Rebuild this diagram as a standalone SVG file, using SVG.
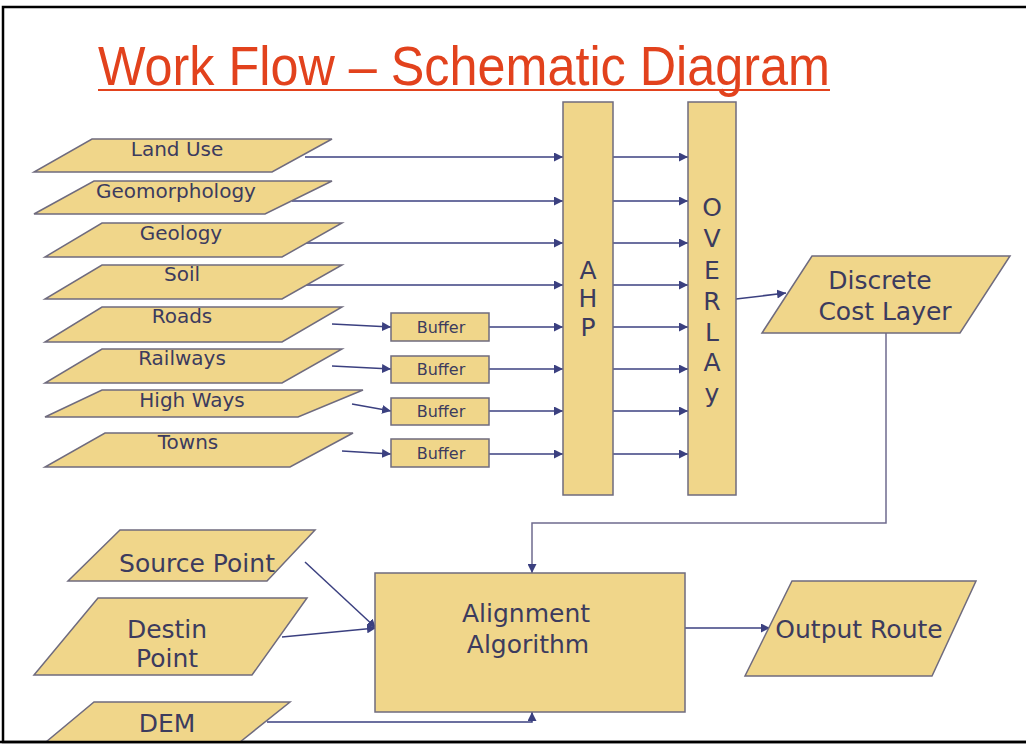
<svg xmlns="http://www.w3.org/2000/svg" width="1026" height="745" viewBox="0 0 1026 745">
<style>
.shape{fill:#F0D68A;stroke:#6F6B7E;stroke-width:1.5}
.lbl{font-family:"DejaVu Sans","Liberation Sans",sans-serif;fill:#3C3B5E;text-anchor:middle}
.s20{font-size:20px}
.s16{font-size:16px}
.s25{font-size:25px}
.conn{fill:none;stroke:#3B4080;stroke-width:1.5}
.line{fill:none;stroke:#6F6B8E;stroke-width:1.5}
</style>
<defs>
<marker id="ah" markerUnits="userSpaceOnUse" markerWidth="10" markerHeight="9" refX="9" refY="4.5" orient="auto">
<path d="M0,0 L9,4.5 L0,9 z" fill="#3B4080"/>
</marker>
</defs>
<rect x="0" y="0" width="1026" height="745" fill="#FFFFFF"/>
<rect x="3" y="7" width="1040" height="735" fill="none" stroke="#000" stroke-width="2.5"/>

<g id="title">
<text x="98" y="85" font-family="Liberation Sans, Arial, sans-serif" font-size="55" fill="#E2421D" textLength="732" lengthAdjust="spacingAndGlyphs">Work Flow – Schematic Diagram</text>
<line x1="98" y1="90" x2="830" y2="90" stroke="#E2421D" stroke-width="2"/>
</g>

<g id="connectors">
<line class="conn" x1="305" y1="157" x2="563" y2="157" marker-end="url(#ah)"/>
<line class="conn" x1="292" y1="201" x2="563" y2="201" marker-end="url(#ah)"/>
<line class="conn" x1="305" y1="243" x2="563" y2="243" marker-end="url(#ah)"/>
<line class="conn" x1="305" y1="285" x2="563" y2="285" marker-end="url(#ah)"/>
<line class="conn" x1="332" y1="324" x2="391" y2="327" marker-end="url(#ah)"/>
<line class="conn" x1="332" y1="366" x2="391" y2="369" marker-end="url(#ah)"/>
<line class="conn" x1="352" y1="404" x2="391" y2="411" marker-end="url(#ah)"/>
<line class="conn" x1="342" y1="451" x2="391" y2="454" marker-end="url(#ah)"/>
<line class="conn" x1="489" y1="327" x2="563" y2="327" marker-end="url(#ah)"/>
<line class="conn" x1="489" y1="369" x2="563" y2="369" marker-end="url(#ah)"/>
<line class="conn" x1="489" y1="411" x2="563" y2="411" marker-end="url(#ah)"/>
<line class="conn" x1="489" y1="454" x2="563" y2="454" marker-end="url(#ah)"/>
<line class="conn" x1="613" y1="157" x2="688" y2="157" marker-end="url(#ah)"/>
<line class="conn" x1="613" y1="201" x2="688" y2="201" marker-end="url(#ah)"/>
<line class="conn" x1="613" y1="243" x2="688" y2="243" marker-end="url(#ah)"/>
<line class="conn" x1="613" y1="285" x2="688" y2="285" marker-end="url(#ah)"/>
<line class="conn" x1="613" y1="327" x2="688" y2="327" marker-end="url(#ah)"/>
<line class="conn" x1="613" y1="369" x2="688" y2="369" marker-end="url(#ah)"/>
<line class="conn" x1="613" y1="411" x2="688" y2="411" marker-end="url(#ah)"/>
<line class="conn" x1="613" y1="454" x2="688" y2="454" marker-end="url(#ah)"/>
<line class="conn" x1="736" y1="299" x2="786" y2="293" marker-end="url(#ah)"/>
<polyline class="line" points="886,333 886,523 532,523 532,573" marker-end="url(#ah)"/>
<line class="conn" x1="305" y1="562" x2="376" y2="628" marker-end="url(#ah)"/>
<line class="conn" x1="282" y1="637" x2="376" y2="628" marker-end="url(#ah)"/>
<polyline class="conn" points="267,722 532,722 532,712" marker-end="url(#ah)"/>
<line class="conn" x1="685" y1="628" x2="770" y2="628" marker-end="url(#ah)"/>
</g>

<g id="land-use"><polygon class="shape" points="92,139 332,139 272,172 34,172"/><text class="lbl s20" x="177" y="156">Land Use</text></g>
<g id="geomorphology"><polygon class="shape" points="94,181 332,181 265,214 34,214"/><text class="lbl s20" x="176" y="198">Geomorphology</text></g>
<g id="geology"><polygon class="shape" points="102,223 342,223 282,257 45,257"/><text class="lbl s20" x="181" y="240">Geology</text></g>
<g id="soil"><polygon class="shape" points="102,265 342,265 282,299 45,299"/><text class="lbl s20" x="182" y="281">Soil</text></g>
<g id="roads"><polygon class="shape" points="102,307 342,307 282,342 45,342"/><text class="lbl s20" x="182" y="323">Roads</text></g>
<g id="railways"><polygon class="shape" points="102,349 342,349 282,383 45,383"/><text class="lbl s20" x="182" y="365">Railways</text></g>
<g id="high-ways"><polygon class="shape" points="102,390 363,390 298,417 45,417"/><text class="lbl s20" x="192" y="407">High Ways</text></g>
<g id="towns"><polygon class="shape" points="105,433 353,433 290,467 45,467"/><text class="lbl s20" x="188" y="449">Towns</text></g>

<g id="buffer1"><rect class="shape" x="391" y="313" width="98" height="28"/><text class="lbl s16" x="441" y="333">Buffer</text></g>
<g id="buffer2"><rect class="shape" x="391" y="356" width="98" height="27"/><text class="lbl s16" x="441" y="375">Buffer</text></g>
<g id="buffer3"><rect class="shape" x="391" y="398" width="98" height="27"/><text class="lbl s16" x="441" y="417">Buffer</text></g>
<g id="buffer4"><rect class="shape" x="391" y="439" width="98" height="28"/><text class="lbl s16" x="441" y="459">Buffer</text></g>

<g id="ahp"><rect class="shape" x="563" y="102" width="50" height="393"/>
<text class="lbl s25" x="588" y="279">A</text>
<text class="lbl s25" x="588" y="307">H</text>
<text class="lbl s25" x="588" y="336">P</text>
</g>
<g id="overlay"><rect class="shape" x="688" y="102" width="48" height="393"/>
<text class="lbl s25" x="712" y="216">O</text>
<text class="lbl s25" x="712" y="247">V</text>
<text class="lbl s25" x="712" y="279">E</text>
<text class="lbl s25" x="712" y="310">R</text>
<text class="lbl s25" x="712" y="341">L</text>
<text class="lbl s25" x="712" y="371">A</text>
<text class="lbl s25" x="712" y="402">y</text>
</g>

<g id="discrete-cost-layer"><polygon class="shape" points="812,256 1010,256 960,333 762,333"/>
<text class="lbl s25" x="880" y="289">Discrete</text>
<text class="lbl s25" x="885" y="320">Cost Layer</text></g>

<g id="source-point"><polygon class="shape" points="120,530 315,530 267,581 68,581"/><text class="lbl s25" x="197" y="572">Source Point</text></g>
<g id="destin-point"><polygon class="shape" points="98,598 307,598 252,675 34,675"/>
<text class="lbl s25" x="167" y="638">Destin</text>
<text class="lbl s25" x="167" y="667">Point</text></g>
<g id="dem"><polygon class="shape" points="94,702 290,702 240,742 46,742"/><text class="lbl s25" x="167" y="732">DEM</text></g>

<g id="alignment-algorithm"><rect class="shape" x="375" y="573" width="310" height="139"/>
<text class="lbl s25" x="526" y="622">Alignment</text>
<text class="lbl s25" x="528" y="653">Algorithm</text></g>

<g id="output-route"><polygon class="shape" points="792,581 976,581 932,676 745,676"/><text class="lbl s25" x="859" y="638">Output Route</text></g>

<line x1="0" y1="742" x2="1026" y2="742" stroke="#000" stroke-width="2.5"/>
</svg>
